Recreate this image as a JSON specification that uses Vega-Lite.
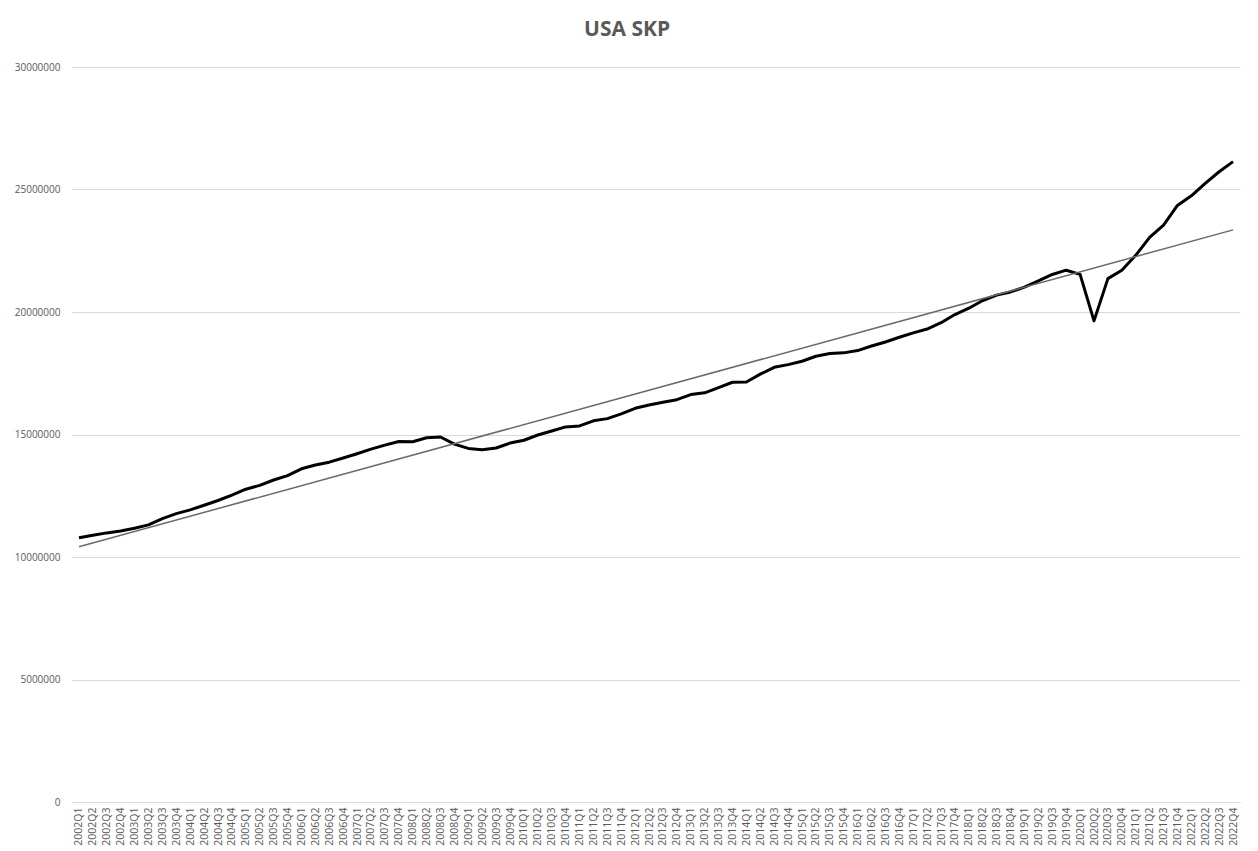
{
  "$schema": "https://vega.github.io/schema/vega-lite/v6.json",
  "autosize": {"type": "none"},
  "width": 1168,
  "height": 735,
  "padding": {"left": 72, "top": 67, "right": 18, "bottom": 49},
  "background": "white",
  "title": {"text": "USA SKP", "fontSize": 21, "font": "Open Sans", "fontWeight": "bold", "color": "#595959", "offset": 22, "anchor": "middle", "frame": "bounds"},
  "config": {
    "view": {"stroke": null},
    "axis": {"labelFont": "Open Sans", "labelFontSize": 10, "labelColor": "#595959", "titleFont": "Open Sans"}
  },
  "data": {"values": [
    {"t": 1, "quarter": "2002Q1", "gdp": 10783500}, {"t": 2, "quarter": "2002Q2", "gdp": 10887500}, {"t": 3, "quarter": "2002Q3", "gdp": 10984000}, {"t": 4, "quarter": "2002Q4", "gdp": 11061400},
    {"t": 5, "quarter": "2003Q1", "gdp": 11174100}, {"t": 6, "quarter": "2003Q2", "gdp": 11312800}, {"t": 7, "quarter": "2003Q3", "gdp": 11566700}, {"t": 8, "quarter": "2003Q4", "gdp": 11772200},
    {"t": 9, "quarter": "2004Q1", "gdp": 11923400}, {"t": 10, "quarter": "2004Q2", "gdp": 12112800}, {"t": 11, "quarter": "2004Q3", "gdp": 12305300}, {"t": 12, "quarter": "2004Q4", "gdp": 12527200},
    {"t": 13, "quarter": "2005Q1", "gdp": 12767300}, {"t": 14, "quarter": "2005Q2", "gdp": 12922700}, {"t": 15, "quarter": "2005Q3", "gdp": 13142600}, {"t": 16, "quarter": "2005Q4", "gdp": 13324200},
    {"t": 17, "quarter": "2006Q1", "gdp": 13599200}, {"t": 18, "quarter": "2006Q2", "gdp": 13753400}, {"t": 19, "quarter": "2006Q3", "gdp": 13870200}, {"t": 20, "quarter": "2006Q4", "gdp": 14039600},
    {"t": 21, "quarter": "2007Q1", "gdp": 14215700}, {"t": 22, "quarter": "2007Q2", "gdp": 14402100}, {"t": 23, "quarter": "2007Q3", "gdp": 14564100}, {"t": 24, "quarter": "2007Q4", "gdp": 14715100},
    {"t": 25, "quarter": "2008Q1", "gdp": 14706500}, {"t": 26, "quarter": "2008Q2", "gdp": 14865700}, {"t": 27, "quarter": "2008Q3", "gdp": 14898900}, {"t": 28, "quarter": "2008Q4", "gdp": 14608200},
    {"t": 29, "quarter": "2009Q1", "gdp": 14430900}, {"t": 30, "quarter": "2009Q2", "gdp": 14381200}, {"t": 31, "quarter": "2009Q3", "gdp": 14448900}, {"t": 32, "quarter": "2009Q4", "gdp": 14651000},
    {"t": 33, "quarter": "2010Q1", "gdp": 14764600}, {"t": 34, "quarter": "2010Q2", "gdp": 14980200}, {"t": 35, "quarter": "2010Q3", "gdp": 15141600}, {"t": 36, "quarter": "2010Q4", "gdp": 15309500},
    {"t": 37, "quarter": "2011Q1", "gdp": 15351400}, {"t": 38, "quarter": "2011Q2", "gdp": 15558000}, {"t": 39, "quarter": "2011Q3", "gdp": 15647700}, {"t": 40, "quarter": "2011Q4", "gdp": 15842300},
    {"t": 41, "quarter": "2012Q1", "gdp": 16069000}, {"t": 42, "quarter": "2012Q2", "gdp": 16207100}, {"t": 43, "quarter": "2012Q3", "gdp": 16319500}, {"t": 44, "quarter": "2012Q4", "gdp": 16420400},
    {"t": 45, "quarter": "2013Q1", "gdp": 16629100}, {"t": 46, "quarter": "2013Q2", "gdp": 16699600}, {"t": 47, "quarter": "2013Q3", "gdp": 16911100}, {"t": 48, "quarter": "2013Q4", "gdp": 17133100},
    {"t": 49, "quarter": "2014Q1", "gdp": 17144300}, {"t": 50, "quarter": "2014Q2", "gdp": 17462700}, {"t": 51, "quarter": "2014Q3", "gdp": 17743200}, {"t": 52, "quarter": "2014Q4", "gdp": 17852500},
    {"t": 53, "quarter": "2015Q1", "gdp": 17991300}, {"t": 54, "quarter": "2015Q2", "gdp": 18193700}, {"t": 55, "quarter": "2015Q3", "gdp": 18307000}, {"t": 56, "quarter": "2015Q4", "gdp": 18332100},
    {"t": 57, "quarter": "2016Q1", "gdp": 18425300}, {"t": 58, "quarter": "2016Q2", "gdp": 18611600}, {"t": 59, "quarter": "2016Q3", "gdp": 18775500}, {"t": 60, "quarter": "2016Q4", "gdp": 18968000},
    {"t": 61, "quarter": "2017Q1", "gdp": 19148200}, {"t": 62, "quarter": "2017Q2", "gdp": 19304400}, {"t": 63, "quarter": "2017Q3", "gdp": 19561900}, {"t": 64, "quarter": "2017Q4", "gdp": 19894800},
    {"t": 65, "quarter": "2018Q1", "gdp": 20155500}, {"t": 66, "quarter": "2018Q2", "gdp": 20470200}, {"t": 67, "quarter": "2018Q3", "gdp": 20687300}, {"t": 68, "quarter": "2018Q4", "gdp": 20819300},
    {"t": 69, "quarter": "2019Q1", "gdp": 21013100}, {"t": 70, "quarter": "2019Q2", "gdp": 21272400}, {"t": 71, "quarter": "2019Q3", "gdp": 21531800}, {"t": 72, "quarter": "2019Q4", "gdp": 21706500},
    {"t": 73, "quarter": "2020Q1", "gdp": 21538000}, {"t": 74, "quarter": "2020Q2", "gdp": 19636700}, {"t": 75, "quarter": "2020Q3", "gdp": 21362400}, {"t": 76, "quarter": "2020Q4", "gdp": 21704700},
    {"t": 77, "quarter": "2021Q1", "gdp": 22313900}, {"t": 78, "quarter": "2021Q2", "gdp": 23046900}, {"t": 79, "quarter": "2021Q3", "gdp": 23550400}, {"t": 80, "quarter": "2021Q4", "gdp": 24349100},
    {"t": 81, "quarter": "2022Q1", "gdp": 24740500}, {"t": 82, "quarter": "2022Q2", "gdp": 25248500}, {"t": 83, "quarter": "2022Q3", "gdp": 25723900}, {"t": 84, "quarter": "2022Q4", "gdp": 26138000}
  ]},
  "encoding": {
    "x": {
      "field": "t", "type": "quantitative",
      "scale": {"domain": [0.5, 84.5], "nice": false, "zero": false},
      "axis": {
        "title": null, "grid": false, "ticks": false, "domain": true, "domainColor": "#d9d9d9", "domainWidth": 1,
        "labelAngle": -90, "labelPadding": 5, "labelOverlap": false, "labelFlush": false, "labelFontSize": 10.5,
        "values": [1,2,3,4,5,6,7,8,9,10,11,12,13,14,15,16,17,18,19,20,21,22,23,24,25,26,27,28,29,30,31,32,33,34,35,36,37,38,39,40,41,42,43,44,45,46,47,48,49,50,51,52,53,54,55,56,57,58,59,60,61,62,63,64,65,66,67,68,69,70,71,72,73,74,75,76,77,78,79,80,81,82,83,84],
        "labelExpr": "(floor((datum.value - 1) / 4) + 2002) + 'Q' + ((datum.value - 1) % 4 + 1)"
      }
    },
    "y": {
      "field": "gdp", "type": "quantitative",
      "scale": {"domain": [0, 30000000], "nice": false},
      "axis": {
        "title": null, "values": [0, 5000000, 10000000, 15000000, 20000000, 25000000, 30000000],
        "format": "d", "ticks": false, "domain": false, "gridColor": "#d9d9d9", "gridWidth": 1, "labelPadding": 12
      }
    }
  },
  "layer": [
    {"mark": {"type": "line", "color": "#000000", "strokeWidth": 3, "strokeJoin": "round"}},
    {
      "transform": [{"regression": "gdp", "on": "t"}],
      "mark": {"type": "line", "color": "#6a6a6a", "strokeWidth": 1.5}
    }
  ]
}
